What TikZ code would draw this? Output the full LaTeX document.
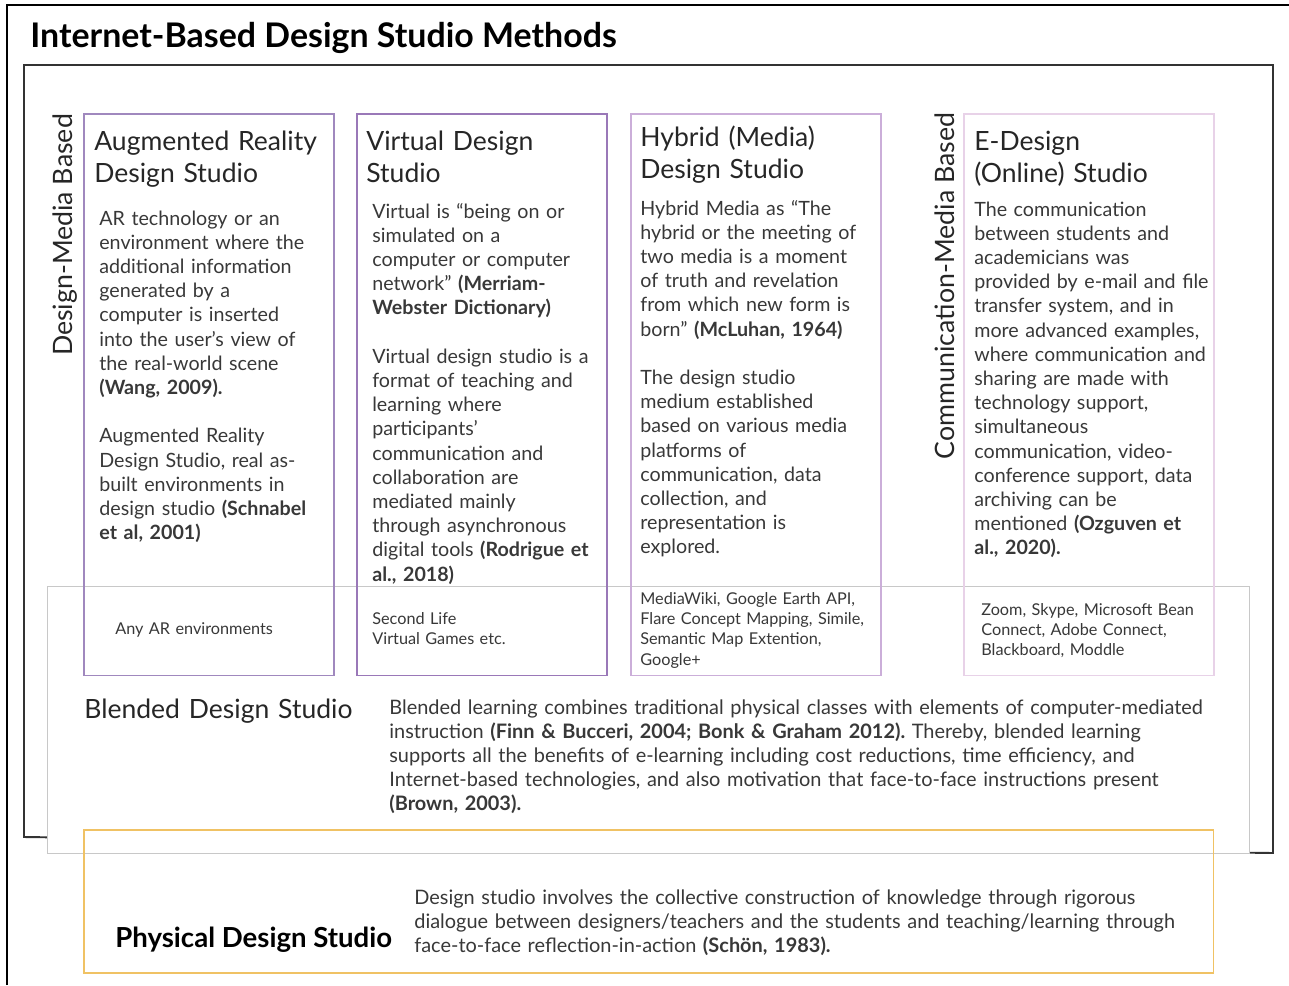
\documentclass[tikz,border=0pt]{standalone}
\usepackage{fontspec}
\setmainfont{Lato}
\frenchspacing
\definecolor{arpurple}{HTML}{A088BE}
\definecolor{vdpurple}{HTML}{9A78B8}
\definecolor{hypurple}{HTML}{CBAED9}
\definecolor{edpink}{HTML}{E8D2E8}
\definecolor{blgrey}{HTML}{C8C8C8}
\definecolor{phorange}{HTML}{F0C264}
\definecolor{txtgrey}{HTML}{383838}
\definecolor{framegrey}{HTML}{333333}
\newcommand{\gap}{\\[\baselineskip]}
\tikzset{
  head/.style={anchor=base west, align=left, text width=7cm, inner sep=0pt,
    font=\fontsize{15.1}{18.7}\selectfont, text=black!85},
  body/.style={anchor=base west, align=left, text width=6cm, inner sep=0pt,
    font=\fontsize{11.2}{13.78}\selectfont, text=txtgrey},
  wide/.style={body, text width=18cm, font=\fontsize{11.35}{13.78}\selectfont},
  tool/.style={anchor=base west, align=left, text width=6cm, inner sep=0pt,
    font=\fontsize{9.25}{11.6}\selectfont, text=txtgrey},
  side/.style={rotate=90, inner sep=0pt, font=\fontsize{15.2}{18}\selectfont, text=black!85},
  colbox/.style={anchor=north west, inner sep=0pt, line width=0.9pt,
    minimum width=5cm, minimum height=11.24cm}
}
\begin{document}
\begin{tikzpicture}[x=0.02cm, y=-0.02cm]
\useasboundingbox (0,0) rectangle (1289,985);
% outer frame and title
\draw[line width=0.6pt] (7,985) -- (7,5) -- (1289,5);
\node[anchor=base west, inner sep=0pt, font=\fontsize{19.3}{22}\selectfont\bfseries] (title) at (30,47) {Internet-Based Design Studio Methods};
% internet based frame
\draw[framegrey, line width=1.1pt] (24,837) -- (24,65) -- (1273,65) -- (1273,853) -- cycle;
% blended studio
\node[anchor=north west, inner sep=0pt, draw=blgrey, fill=white, line width=0.8pt,
  minimum width=24.04cm, minimum height=5.34cm] (blend) at (47,586) {};
% the four studio columns
\foreach[count=\i] \x/\c in {83/arpurple,356/vdpurple,630/hypurple,963/edpink}
{
    \node[colbox, draw=\c] (col\i) at (\x,113) {};
}
\node[side] (dmb) at (65,235) {Design-Media Based};
\node[side] (cmb) at (945,286) {Communication-Media Based};
% augmented reality
\node[head] (arhead) at (94,150) {Augmented Reality\\Design Studio};
\node[body] (artext) at (99,225) {AR technology or an\\environment where the\\additional information\\generated by a\\computer is inserted\\into the user’s view of\\the real-world scene\\\textbf{(Wang, 2009).}\gap
  Augmented Reality\\Design Studio, real as-\\built environments in\\design studio \textbf{(Schnabel}\\\textbf{et al, 2001)}};
\node[tool] (artool) at (115,634) {Any AR environments};
% virtual
\node[head] (vdhead) at (366,150) {Virtual Design\\Studio};
\node[body] (vdtext) at (372,218) {Virtual is “being on or\\simulated on a\\computer or computer\\network” \textbf{(Merriam-}\\\textbf{Webster Dictionary)}\gap
  Virtual design studio is a\\format of teaching and\\learning where\\participants’\\communication and\\collaboration are\\mediated mainly\\through asynchronous\\digital tools \textbf{(Rodrigue et}\\\textbf{al., 2018)}};
\node[tool] (vdtool) at (372,624) {Second Life\\Virtual Games etc.};
% hybrid
\node[head] (hyhead) at (640,146) {Hybrid (Media)\\Design Studio};
\node[body] (hytext) at (640,215) {Hybrid Media as “The\\hybrid or the meeting of\\two media is a moment\\of truth and revelation\\from which new form is\\born” \textbf{(McLuhan, 1964)}\gap
  The design studio\\medium established\\based on various media\\platforms of\\communication, data\\collection, and\\representation is\\explored.};
\node[tool] (hytool) at (640,604) {MediaWiki, Google Earth API,\\Flare Concept Mapping, Simile,\\Semantic Map Extention,\\Google+};
% e-design
\node[head] (edhead) at (974,150) {E-Design\\(Online) Studio};
\node[body] (edtext) at (974,216) {The communication\\between students and\\academicians was\\provided by e-mail and file\\transfer system, and in\\more advanced examples,\\where communication and\\sharing are made with\\technology support,\\simultaneous\\communication, video-\\conference support, data\\archiving can be\\mentioned \textbf{(Ozguven et}\\\textbf{al., 2020).}};
\node[tool] (edtool) at (981,615) {Zoom, Skype, Microsoft Bean\\Connect, Adobe Connect,\\Blackboard, Moddle};
% blended text
\node[head] (blhead) at (84,718) {Blended Design Studio};
\node[wide] (bltext) at (389,714) {Blended learning combines traditional physical classes with elements of computer-mediated\\instruction \textbf{(Finn \& Bucceri, 2004; Bonk \& Graham 2012).} Thereby, blended learning\\supports all the benefits of e-learning including cost reductions, time efficiency, and\\Internet-based technologies, and also motivation that face-to-face instructions present\\\textbf{(Brown, 2003).}};
% physical studio
\node[anchor=north west, inner sep=0pt, draw=phorange, line width=0.9pt,
  minimum width=22.6cm, minimum height=2.86cm] (phys) at (83,829) {};
\node[anchor=base west, inner sep=0pt, font=\fontsize{15.7}{18}\selectfont\bfseries] (phhead) at (115,947) {Physical Design Studio};
\node[wide] (phtext) at (414,904) {Design studio involves the collective construction of knowledge through rigorous\\dialogue between designers/teachers and the students and teaching/learning through\\face-to-face reflection-in-action \textbf{(Schön, 1983).}};
\end{tikzpicture}
\end{document}
